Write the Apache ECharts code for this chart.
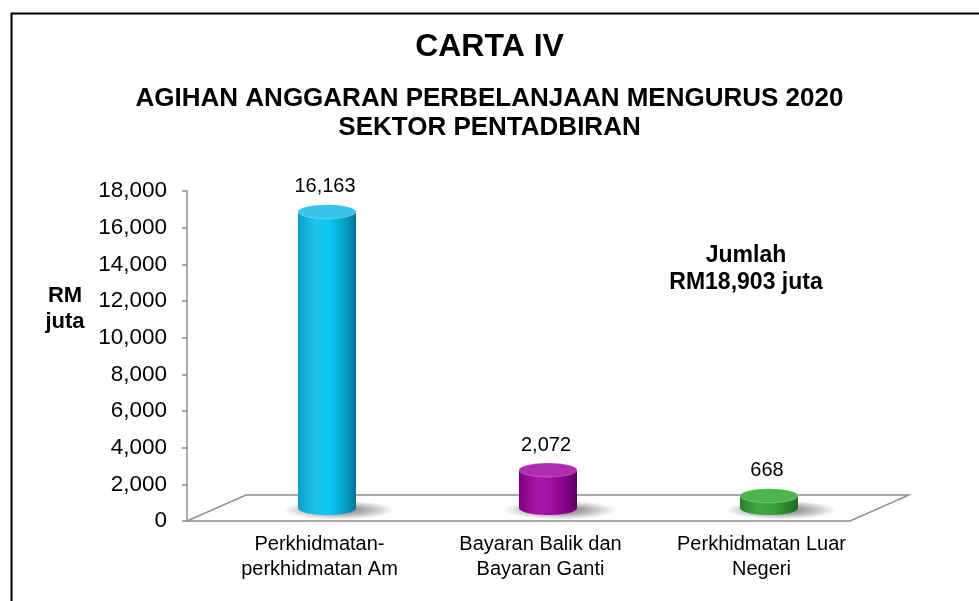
<!DOCTYPE html>
<html>
<head>
<meta charset="utf-8">
<title>CARTA IV</title>
<script src="https://cdn.jsdelivr.net/npm/echarts@6/dist/echarts.min.js"></script>
<style>
    html, body {margin: 0; padding: 0; background: #fff;}
    #main {width: 979px; height: 601px;}
</style>
</head>
<body>
<div id="main"></div>
<script>
'use strict';

// data
var categories = ['Perkhidmatan-\nperkhidmatan Am', 'Bayaran Balik dan\nBayaran Ganti', 'Perkhidmatan Luar\nNegeri'];
var values = [16163, 2072, 668];
var yMin = 0, yMax = 18000, yStep = 2000;
var titleText = 'CARTA IV';
var subText = 'AGIHAN ANGGARAN PERBELANJAAN MENGURUS 2020\nSEKTOR PENTADBIRAN';
var unitText = 'RM\njuta';
var totalText = 'Jumlah\nRM18,903 juta';

var FONT = '"Liberation Sans", Arial, sans-serif';
// body gradient stops + top colour for each cylinder
var barColors = [
    {stops: ['#0e9dc6', '#1fc3ea', '#05c9f2', '#0897be', '#057595'], top: '#36c4ea'},
    {stops: ['#80007f', '#a615a8', '#a010a2', '#7d007f', '#600062'], top: '#b02db3'},
    {stops: ['#2a7f2a', '#40a840', '#3aa23a', '#2a802a', '#1f6a1f'], top: '#4cb54c'}
];
var DEPTH_X = 59, DEPTH_Y = -26; // floor depth

function fmt(n) {
    return String(n).replace(/\B(?=(\d{3})+(?!\d))/g, ',');
}

function bodyGrad(c) {
    var pos = [0, 0.3, 0.55, 0.85, 1];
    return new echarts.graphic.LinearGradient(0, 0, 1, 0, c.stops.map(function (s, k) {
        return {offset: pos[k], color: s};
    }));
}

var chart = echarts.init(document.getElementById('main'), null, {renderer: 'canvas'});

var option = {
    backgroundColor: '#fff',
    animation: false,
    title: {
        text: titleText,
        subtext: subText,
        left: 'center',
        top: 31,
        padding: 0,
        itemGap: 21,
        textStyle: {fontFamily: FONT, fontSize: 32, fontWeight: 'bold', color: '#000', lineHeight: 32},
        subtextStyle: {fontFamily: FONT, fontSize: 26, fontWeight: 'bold', color: '#000', lineHeight: 29}
    },
    grid: {left: 187, right: 129, top: 191, bottom: 80},
    xAxis: {
        type: 'category',
        data: categories,
        axisLine: {show: false},
        axisTick: {show: false},
        axisLabel: {
            fontFamily: FONT, fontSize: 20, color: '#000', lineHeight: 25,
            margin: 11, padding: [0, 0, 0, 44], interval: 0
        }
    },
    yAxis: {
        type: 'value',
        min: yMin, max: yMax, interval: yStep,
        splitLine: {show: false},
        axisLine: {show: true, lineStyle: {color: '#8c8c8c', width: 1.5}},
        axisTick: {show: true, length: 5, lineStyle: {color: '#8c8c8c', width: 1.5}},
        axisLabel: {fontFamily: FONT, fontSize: 22.5, color: '#000', margin: 20, formatter: fmt}
    },
    graphic: [
        {
            type: 'rect', left: 9, top: 11, z: -10, silent: true,
            shape: {width: 1100, height: 700},
            style: {fill: 'none', stroke: '#000', lineWidth: 2}
        },
        {
            type: 'text', x: 65, y: 296, z: 10,
            style: {text: unitText, fontFamily: FONT, fontSize: 22, fontWeight: 'bold', fill: '#000',
                align: 'center', verticalAlign: 'top', lineHeight: 26, y: -13}
        },
        {
            type: 'text', x: 746, y: 255, z: 10,
            style: {text: totalText, fontFamily: FONT, fontSize: 23, fontWeight: 'bold', fill: '#000',
                align: 'center', verticalAlign: 'top', lineHeight: 27, y: -13}
        }
    ],
    series: [
        {
            // 3D floor
            type: 'custom',
            z: 1,
            silent: true,
            data: [[0, 0]],
            renderItem: function (params, api) {
                var cs = params.coordSys;
                var y0 = api.coord([0, yMin])[1];
                var x0 = cs.x, x1 = cs.x + cs.width;
                return {
                    type: 'polygon',
                    shape: {points: [[x0, y0], [x0 + DEPTH_X, y0 + DEPTH_Y], [x1 + DEPTH_X, y0 + DEPTH_Y], [x1, y0]]},
                    style: {fill: '#fff', stroke: '#8f8f8f', lineWidth: 1.5}
                };
            }
        },
        {
            // cylinders
            type: 'custom',
            z: 5,
            data: values.map(function (v, i) { return [i, v]; }),
            encode: {x: 0, y: 1},
            renderItem: function (params, api) {
                var i = api.value(0), v = api.value(1);
                var base = api.coord([i, yMin]);
                var top = api.coord([i, v]);
                var cx = base[0] + DEPTH_X / 2;
                var by = base[1] + DEPTH_Y / 2;
                var ty = top[1] + DEPTH_Y / 2;
                var rx = 29, ry = 7;
                var c = barColors[params.dataIndex];
                var grad = bodyGrad(c);
                return {
                    type: 'group',
                    children: [
                        {
                            // soft shadow on the floor
                            type: 'circle',
                            x: cx + 12, y: by + 2, scaleY: 0.17,
                            shape: {cx: 0, cy: 0, r: 56},
                            style: {fill: new echarts.graphic.RadialGradient(0.5, 0.5, 0.5, [
                                {offset: 0, color: 'rgba(0,0,0,0.55)'},
                                {offset: 0.5, color: 'rgba(0,0,0,0.3)'},
                                {offset: 1, color: 'rgba(0,0,0,0)'}
                            ])}
                        },
                        {type: 'ellipse', shape: {cx: cx, cy: by, rx: rx, ry: ry}, style: {fill: grad}},
                        {type: 'rect', shape: {x: cx - rx, y: ty, width: rx * 2, height: by - ty}, style: {fill: grad}},
                        {
                            type: 'ellipse', shape: {cx: cx, cy: ty, rx: rx, ry: ry},
                            style: {fill: c.top, stroke: 'rgba(255,255,255,0.25)', lineWidth: 1}
                        },
                        {
                            type: 'text', x: cx - 2, y: ty - 25,
                            style: {text: fmt(v), fontFamily: FONT, fontSize: 20, fill: '#000',
                                align: 'center', verticalAlign: 'middle'}
                        }
                    ]
                };
            }
        }
    ]
};

chart.setOption(option);
</script>
</body>
</html>
